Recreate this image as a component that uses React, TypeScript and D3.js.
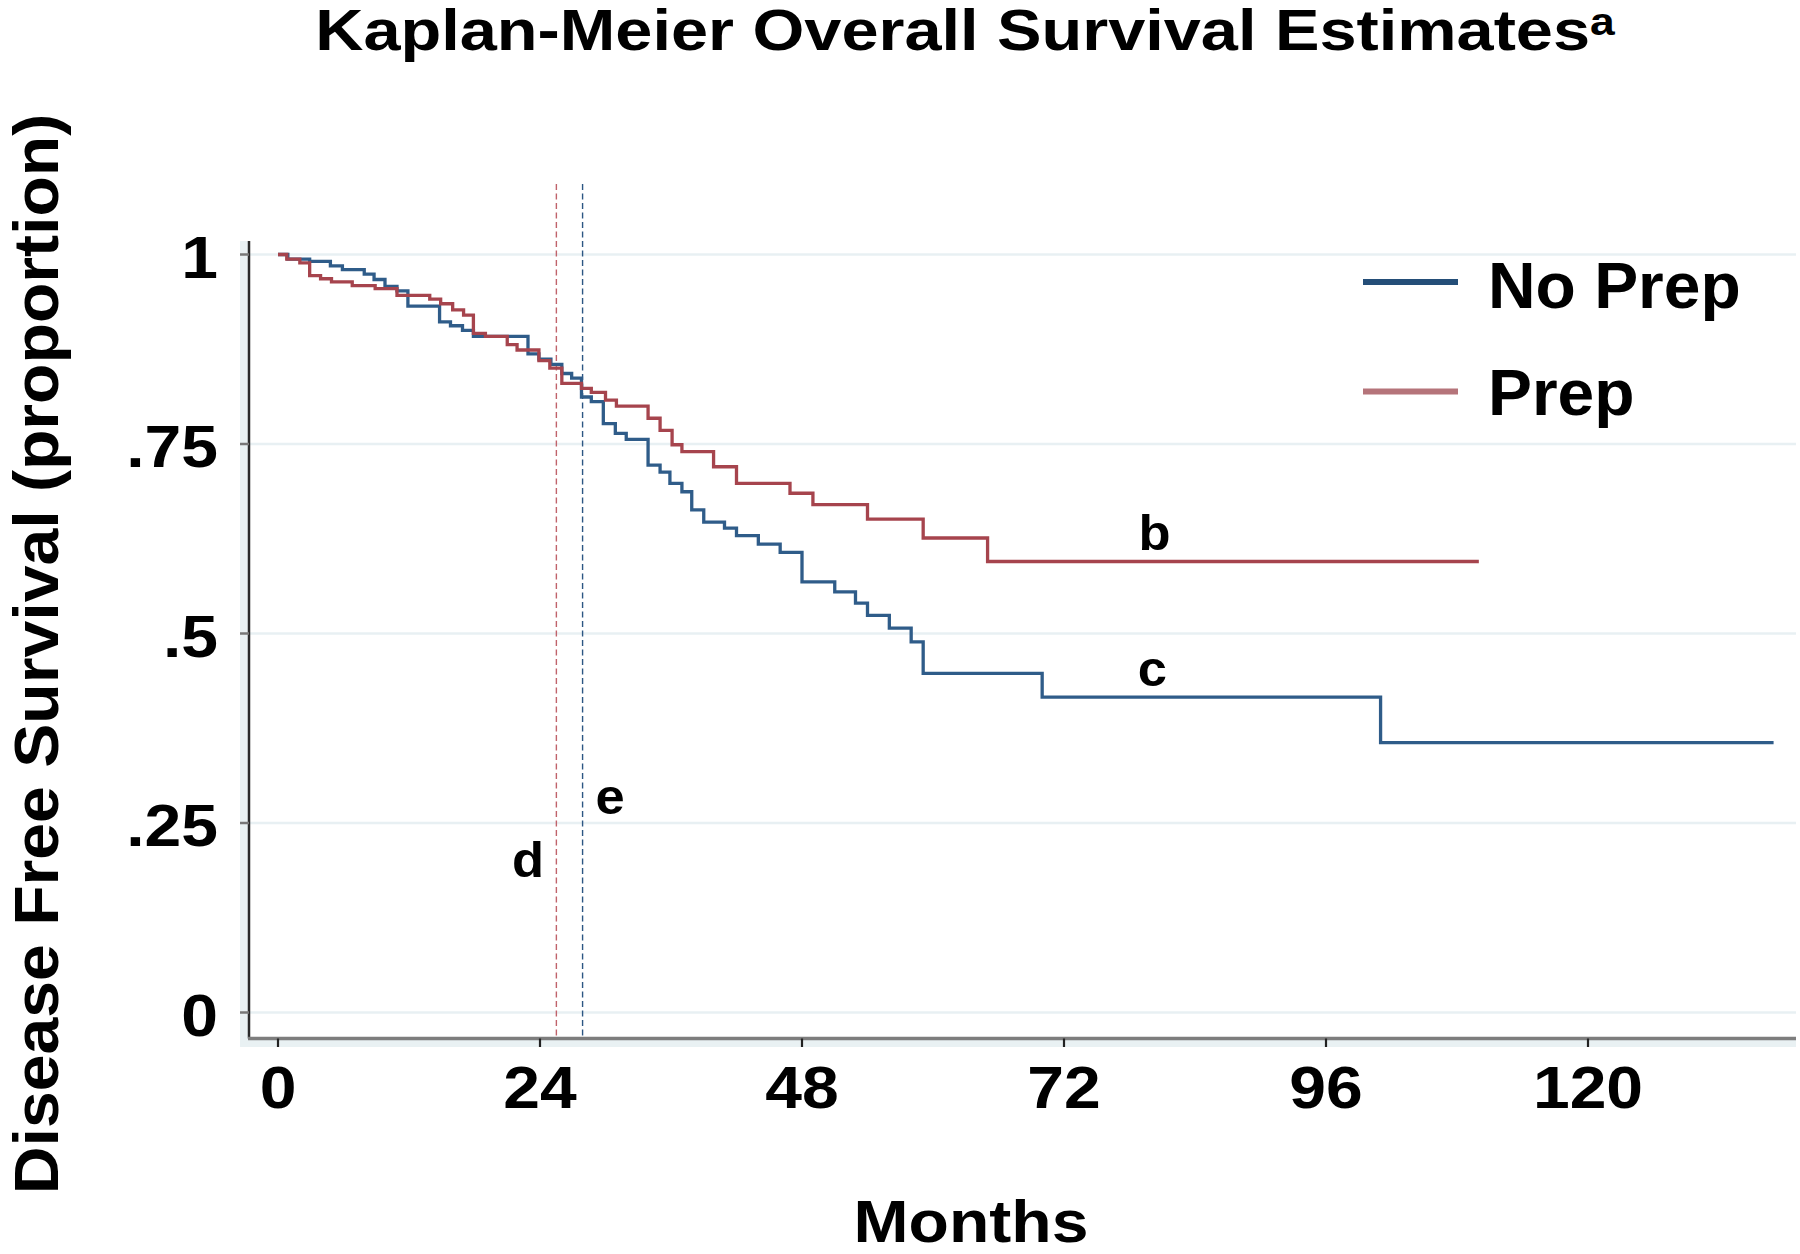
import React from 'react'
import * as d3 from 'd3'

// step points: [months, survival after the step]
const noPrepSteps: [number, number][] = [
  [0, 1.0], [0.9, 0.994], [2.9, 0.991], [4.8, 0.985], [5.9, 0.98], [7.9, 0.974],
  [8.8, 0.967], [9.8, 0.958], [10.9, 0.952], [11.9, 0.932], [14.8, 0.911], [15.8, 0.906],
  [16.9, 0.9], [17.9, 0.892], [22.9, 0.869], [23.9, 0.862], [25.0, 0.855], [26.0, 0.843],
  [26.9, 0.837], [27.8, 0.812], [28.7, 0.806], [29.8, 0.777], [30.9, 0.764], [31.9, 0.756],
  [33.9, 0.722], [35.0, 0.713], [35.9, 0.698], [37.0, 0.687], [37.9, 0.663], [39.0, 0.647],
  [40.9, 0.639], [42.0, 0.629], [44.0, 0.618], [46.0, 0.607], [48.0, 0.568], [51.0, 0.555],
  [52.9, 0.54], [54.0, 0.524], [56.0, 0.507], [58.0, 0.489], [59.1, 0.4475], [70.0, 0.416],
  [101.0, 0.356], [137.0, 0.356],
]
const prepSteps: [number, number][] = [
  [0, 1.0], [0.8, 0.994], [2.0, 0.989], [2.9, 0.972], [3.9, 0.968], [4.9, 0.964],
  [6.8, 0.959], [8.9, 0.955], [10.9, 0.946], [13.9, 0.941], [14.9, 0.935], [16.0, 0.927],
  [17.0, 0.92], [17.9, 0.896], [19.0, 0.892], [21.0, 0.881], [21.9, 0.874], [23.9, 0.86],
  [24.9, 0.85], [26.0, 0.83], [27.8, 0.8235], [28.7, 0.818], [30.0, 0.808], [31.0, 0.8],
  [33.9, 0.784], [35.0, 0.768], [36.1, 0.749], [37.0, 0.74], [39.9, 0.72], [42.0, 0.698],
  [46.9, 0.685], [49.0, 0.67], [54.0, 0.651], [59.1, 0.626], [65.0, 0.595], [110.0, 0.595],
]
const xTicks = [0, 24, 48, 72, 96, 120]
const yTicks = [0, 0.25, 0.5, 0.75, 1]
const yTickLabels = ['0', '.25', '.5', '.75', '1']
const medianLines = [
  { month: 25.5, color: '#c0636b', label: 'd' },
  { month: 27.9, color: '#2c5683', label: 'e' },
]
const curveNotes = [
  { month: 80.3, surv: 0.61, label: 'b' },
  { month: 80.1, surv: 0.431, label: 'c' },
]
const legendItems = [
  { name: 'No Prep', color: '#244e78' },
  { name: 'Prep', color: '#b5747a' },
]
const curveColors = ['#2f5c89', '#a6444d']

const font = '"Liberation Sans", Arial, Helvetica, sans-serif'

export default function App() {
  const x = d3.scaleLinear().domain([0, 120]).range([278, 1588])
  const y = d3.scaleLinear().domain([0, 1]).range([1012.5, 254.5])
  const line = d3.line<[number, number]>()
    .x(d => x(d[0]))
    .y(d => y(d[1]))
    .curve(d3.curveStepAfter)

  const axisX = 249
  const axisY = 1038.5
  const rightEdge = 1796

  return (
    <svg width={1800} height={1254} style={{ position: 'absolute', left: 0, top: 0, background: '#fff' }}
      fontFamily={font} fontWeight="bold">
      <rect x={0} y={0} width={1800} height={1254} fill="#fff" />
      {/* title */}
      <text transform="translate(965,50) scale(1.17,1)" fontSize={57} textAnchor="middle">
        Kaplan-Meier Overall Survival Estimates
        <tspan fontSize={38} dy={-15}>a</tspan>
      </text>

      {/* light band around the plot region */}
      <rect x={240} y={241} width={axisX - 240} height={1047 - 241} fill="#e9f1f3" />
      <rect x={240} y={axisY} width={rightEdge - 240} height={1047 - axisY} fill="#e9f1f3" />

      {/* grid */}
      {yTicks.map(t => (
        <line key={'g' + t} x1={axisX} x2={rightEdge} y1={y(t)} y2={y(t)} stroke="#e8f0f3" strokeWidth={2.5} />
      ))}

      {/* median follow-up lines */}
      {medianLines.map(m => (
        <line key={m.label} x1={x(m.month)} x2={x(m.month)} y1={184} y2={axisY}
          stroke={m.color} strokeWidth={1.4} strokeDasharray="6,3.5" />
      ))}

      {/* curves */}
      {[noPrepSteps, prepSteps].map((s, i) => (
        <path key={i} d={line(s) || ''} fill="none" stroke={curveColors[i]} strokeWidth={3.3}
          strokeLinejoin="miter" strokeLinecap="butt" />
      ))}

      {/* axes */}
      <line x1={axisX} x2={axisX} y1={241} y2={axisY} stroke="#2a2a2a" strokeWidth={2.5} />
      <line x1={axisX - 1} x2={rightEdge} y1={axisY} y2={axisY} stroke="#7d7d7d" strokeWidth={3.5} />
      {yTicks.map(t => (
        <line key={'yt' + t} x1={240} x2={axisX} y1={y(t)} y2={y(t)} stroke="#777" strokeWidth={2.5} />
      ))}
      {xTicks.map(t => (
        <line key={'xt' + t} x1={x(t)} x2={x(t)} y1={axisY} y2={1047} stroke="#222" strokeWidth={2.2} />
      ))}

      {/* tick labels */}
      {yTicks.map((t, i) => (
        <text key={'yl' + t} transform={`translate(218,${y(t) + 23}) scale(1.1,1)`} fontSize={60} textAnchor="end">
          {yTickLabels[i]}
        </text>
      ))}
      {xTicks.map(t => (
        <text key={'xl' + t} transform={`translate(${x(t)},1108) scale(1.1,1)`} fontSize={60} textAnchor="middle">
          {t}
        </text>
      ))}

      {/* axis titles */}
      <text transform="translate(971,1242) scale(1.12,1)" fontSize={59} textAnchor="middle">Months</text>
      <text transform="translate(58,654) rotate(-90) scale(1.05,1)" fontSize={63} textAnchor="middle">
        Disease Free Survival (proportion)
      </text>

      {/* annotations */}
      {curveNotes.map(n => (
        <text key={n.label} transform={`translate(${x(n.month)},${y(n.surv)}) scale(1.05,1)`} fontSize={50} textAnchor="middle">
          {n.label}
        </text>
      ))}
      <text transform="translate(528,877) scale(1.05,1)" fontSize={50} textAnchor="middle">d</text>
      <text transform="translate(610,814) scale(1.05,1)" fontSize={50} textAnchor="middle">e</text>

      {/* legend */}
      {legendItems.map((l, i) => (
        <g key={l.name}>
          <line x1={1363} x2={1458} y1={282 + i * 109.5} y2={282 + i * 109.5} stroke={l.color} strokeWidth={6} />
          <text transform={`translate(1488,${308 + i * 107}) scale(1.03,1)`} fontSize={64}>{l.name}</text>
        </g>
      ))}
    </svg>
  )
}
